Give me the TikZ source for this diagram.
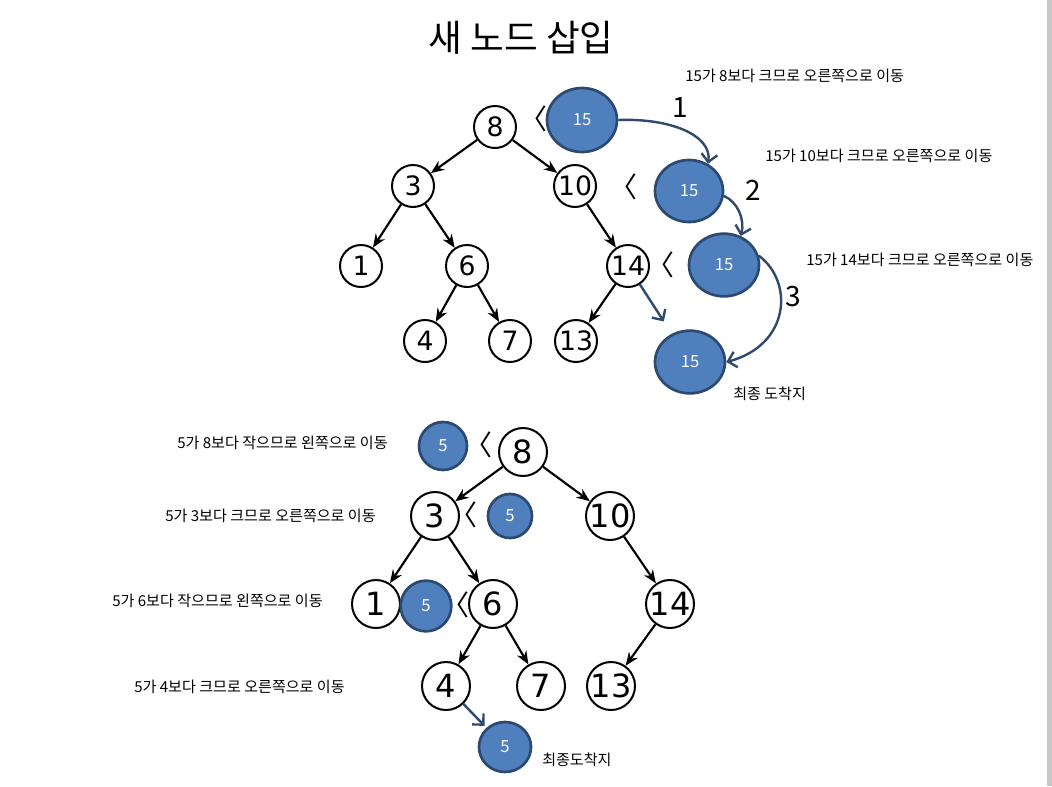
\documentclass[tikz,border=0pt]{standalone}
\usepackage{fontspec}
\setmainfont{DejaVu Sans}
\newfontfamily\kr{Noto Sans CJK KR}
\usetikzlibrary{arrows.meta,shapes.geometric}
\definecolor{bluef}{RGB}{79,127,189}
\definecolor{bordc}{RGB}{44,74,112}
\definecolor{arrc}{RGB}{47,74,110}
\definecolor{barc}{RGB}{200,200,200}
\begin{document}
\begin{tikzpicture}[x=0.75pt,y=-0.75pt,
  tw/.style={circle,draw,line width=1.5pt,fill=white,inner sep=0pt,minimum size=31.5pt,font=\fontsize{20}{24}\selectfont},
  bw/.style={circle,draw,line width=1.5pt,fill=white,inner sep=0pt,minimum size=36pt,font=\fontsize{24}{28}\selectfont},
  bl/.style={ellipse,draw=bordc,fill=bluef,line width=2pt,text=white,inner sep=0pt,font=\kr\fontsize{12.5}{14}\selectfont},
  treeedge/.style={-{Stealth[length=10pt,width=8pt]},line width=1.6pt},
  mv/.style={-{Straight Barb[length=6pt,width=12pt]},draw=arrc,line width=1.8pt},
  lt/.style={font=\kr\fontsize{21}{21}\selectfont,inner sep=0pt},
  note/.style={font=\kr\fontsize{11.3}{13}\selectfont,anchor=west,inner sep=0pt},
  num/.style={font=\kr\fontsize{21}{24}\selectfont,inner sep=0pt}]
\useasboundingbox (0,0) rectangle (1052,786);
\fill[white] (0,0) rectangle (1052,786);
\fill[barc] (1047,0) rectangle (1052,786);

% title
\node[font=\kr\fontsize{27.5}{32}\selectfont] (title) at (521,38) {새 노드 삽입};

% ---------- top tree ----------
\node[tw] (a8)  at (495,127) {8};
\node[tw] (a3)  at (413,186) {3};
\node[tw] (a10) at (575,186) {10};
\node[tw] (a1)  at (361,266) {1};
\node[tw] (a6)  at (467,266) {6};
\node[tw] (a14) at (628,266) {14};
\node[tw] (a4)  at (425,341) {4};
\node[tw] (a7)  at (510,341) {7};
\node[tw] (a13) at (576,341) {13};
\foreach \p/\c in {a8/a3,a8/a10,a3/a1,a3/a6,a10/a14,a6/a4,a6/a7,a14/a13}
  \draw[treeedge] (\p) -- (\c);

\node[bl,minimum width=52.5pt,minimum height=48pt] (b1) at (582,120) {15};
\node[bl,minimum width=51pt,minimum height=46.5pt] (b2) at (689,191) {15};
\node[bl,minimum width=52.5pt,minimum height=47pt] (b3) at (724,265) {15};
\node[bl,minimum width=52.5pt,minimum height=47pt] (b4) at (690,362) {15};

\node[lt] (l1) at (533,119) {〈};
\node[lt] (l2) at (623,187) {〈};
\node[lt] (l3) at (660,265) {〈};

\draw[mv] (b1.east) .. controls (670,118) and (712,135) .. (b2.55);
\draw[mv] (b2.-8) .. controls (738,202) and (745,220) .. (b3.60);
\draw[mv] (b3.15) .. controls (794,282) and (790,345) .. (b4.east);
\draw[mv,shorten >=11pt] (a14) -- (b4);

\node[num] (n1) at (680,108) {1};
\node[num] (n2) at (753,190) {2};
\node[num] (n3) at (793,297) {3};

\node[note] (t1) at (685,76) {15가 8보다 크므로 오른쪽으로 이동};
\node[note] (t2) at (765,156) {15가 10보다 크므로 오른쪽으로 이동};
\node[note] (t3) at (806,260) {15가 14보다 크므로 오른쪽으로 이동};
\node[note] (t4) at (733,394) {최종 도착지};

% ---------- bottom tree ----------
\node[bw] (c8)  at (523,452) {8};
\node[bw] (c3)  at (435,516) {3};
\node[bw] (c10) at (610,516) {10};
\node[bw] (c1)  at (376,604) {1};
\node[bw] (c6)  at (493,604) {6};
\node[bw] (c14) at (670,604) {14};
\node[bw] (c4)  at (446,686) {4};
\node[bw] (c7)  at (541,686) {7};
\node[bw] (c13) at (611,686) {13};
\foreach \p/\c in {c8/c3,c8/c10,c3/c1,c3/c6,c10/c14,c6/c4,c6/c7,c14/c13}
  \draw[treeedge] (\p) -- (\c);

\node[bl,minimum size=36pt] (d1) at (443,446) {5};
\node[bl,minimum size=33pt] (d2) at (510,516) {5};
\node[bl,minimum width=38pt,minimum height=38pt] (d3) at (426,606) {5};
\node[bl,minimum width=39pt,minimum height=37.5pt] (d4) at (505,747) {5};

\node[lt] (m1) at (478,445) {〈};
\node[lt] (m2) at (463,515) {〈};
\node[lt] (m3) at (455,605) {〈};

\draw[mv,shorten >=2pt] (c4) -- (d4);

\node[note] (u1) at (177,443) {5가 8보다 작으므로 왼쪽으로 이동};
\node[note] (u2) at (165,516) {5가 3보다 크므로 오른쪽으로 이동};
\node[note] (u3) at (112,601) {5가 6보다 작으므로 왼쪽으로 이동};
\node[note] (u4) at (134,687) {5가 4보다 크므로 오른쪽으로 이동};
\node[note] (u5) at (542,760) {최종도착지};
\end{tikzpicture}
\end{document}
